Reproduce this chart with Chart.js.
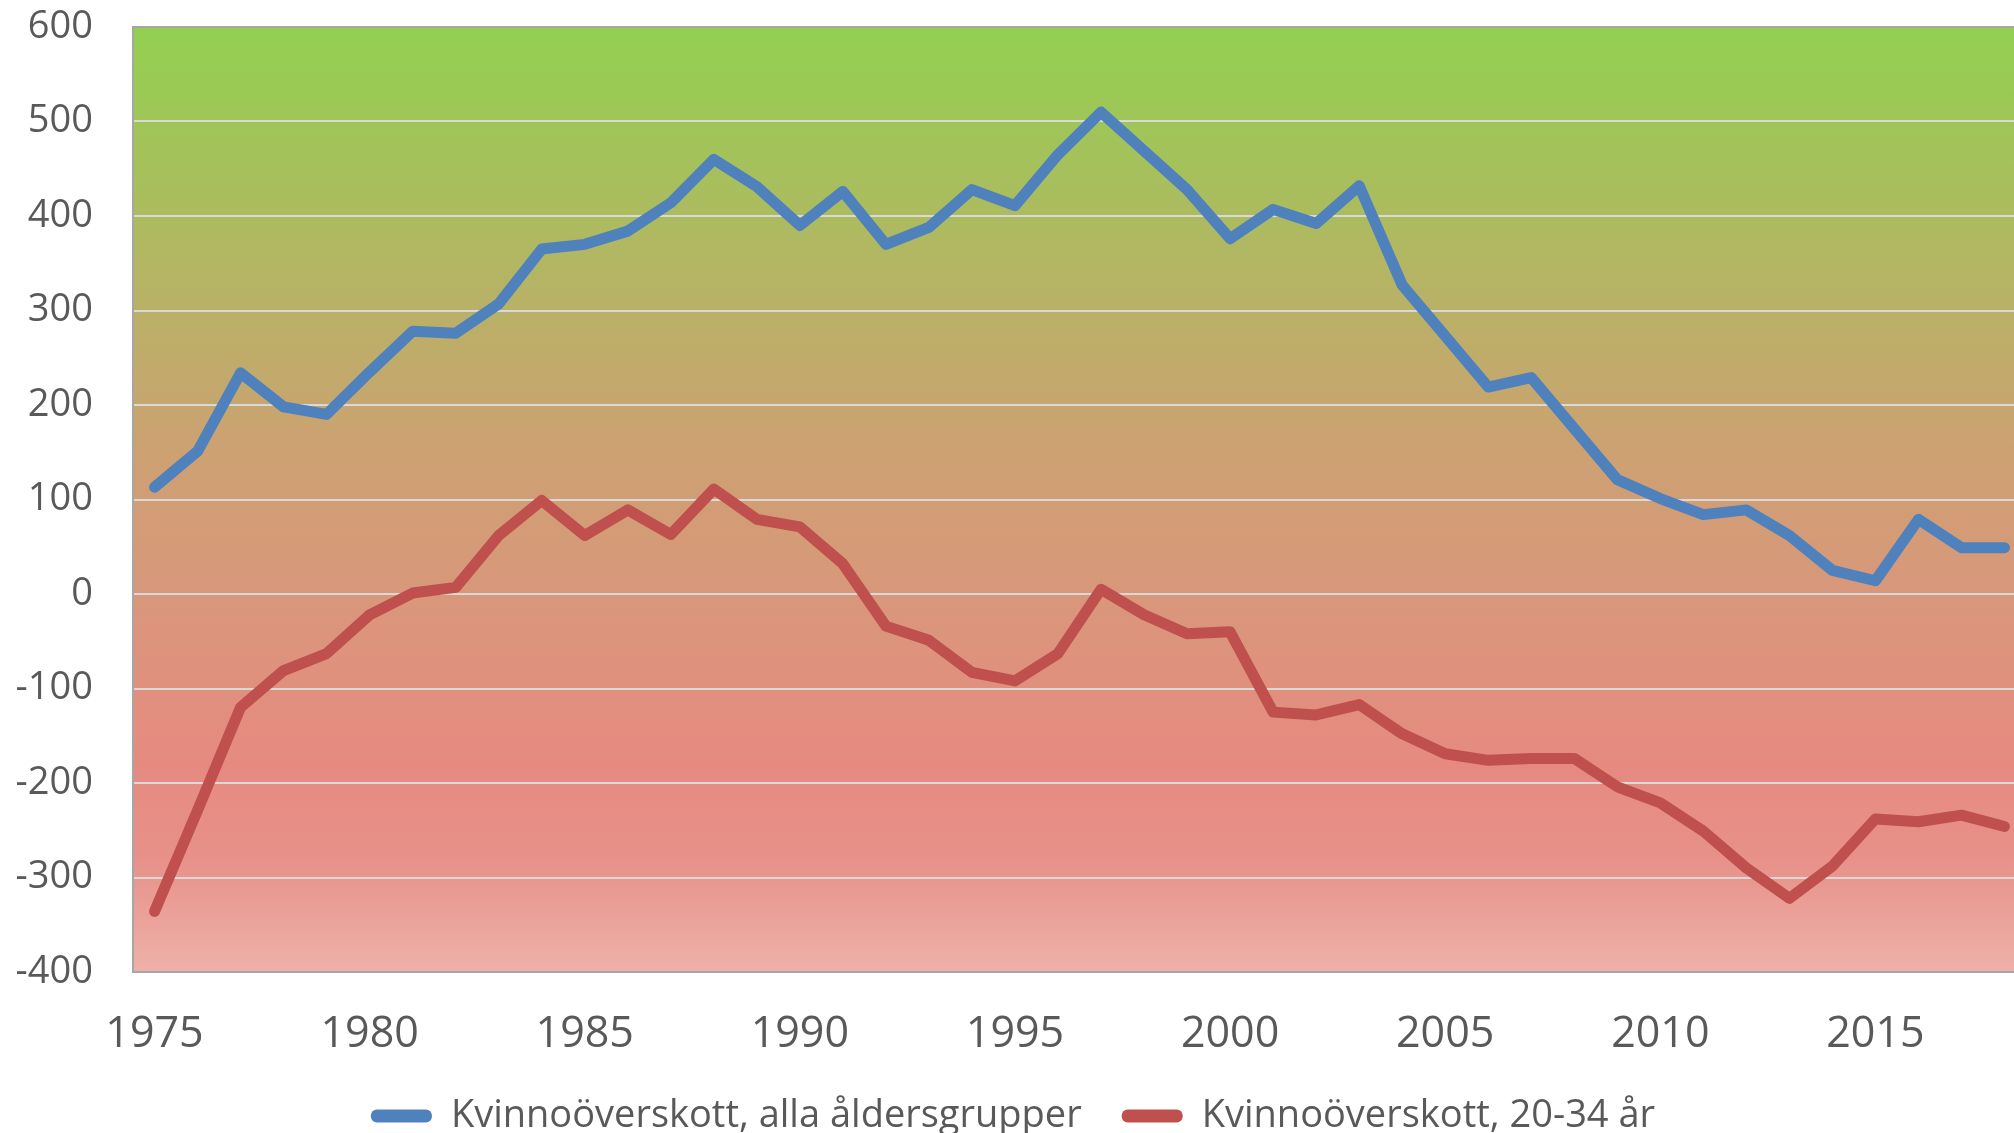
<!DOCTYPE html>
<html>
<head>
<meta charset="utf-8">
<script src="https://cdn.jsdelivr.net/npm/chart.js@4"></script>
<style>
  html, body { margin: 0; padding: 0; background: #fff; overflow: hidden; }
  #wrap { width: 2014px; height: 1133px; overflow: hidden; }
</style>
</head>
<body>
<div id="wrap"><canvas id="chart" width="2030" height="1133"></canvas></div>
<script>
const years = [1975, 1976, 1977, 1978, 1979, 1980, 1981, 1982, 1983, 1984,
    1985, 1986, 1987, 1988, 1989, 1990, 1991, 1992, 1993, 1994,
    1995, 1996, 1997, 1998, 1999, 2000, 2001, 2002, 2003, 2004,
    2005, 2006, 2007, 2008, 2009, 2010, 2011, 2012, 2013, 2014,
    2015, 2016, 2017, 2018];

// Kvinnoöverskott, alla åldersgrupper
const allaAldrar = [113, 151, 234, 198, 190, 235, 278, 276, 307, 365,
    370, 384, 414, 460, 431, 390, 426, 370, 388, 428,
    411, 465, 510, 469, 428, 376, 407, 392, 432, 327,
    273, 219, 229, 175, 121, 101, 84, 89, 62, 25,
    14, 79, 49, 49];

// Kvinnoöverskott, 20-34 år
const unga = [-336, -229, -120, -81, -63, -22, 1, 7, 62, 99,
    62, 89, 63, 111, 79, 71, 32, -34, -49, -83,
    -92, -63, 5, -22, -42, -40, -125, -128, -117, -148,
    -169, -176, -174, -174, -204, -221, -251, -290, -322, -288,
    -238, -241, -234, -246];

const yTicks = [-400, -300, -200, -100, 0, 100, 200, 300, 400, 500, 600];

const textColor = '#595959';
const fontName = "'Open Sans', 'Noto Sans', sans-serif";

// gradient behind the plot area
const bgPlugin = {
    id: 'plotBg',
    beforeDraw(chart) {
        const a = chart.chartArea;
        if (!a) return;
        const ctx = chart.ctx;
        const g = ctx.createLinearGradient(0, a.top, 0, a.bottom);
        g.addColorStop(0, '#92D050');
        g.addColorStop(0.45, '#CDA172');
        g.addColorStop(0.62, '#DA967C');
        g.addColorStop(0.78, '#E68A80');
        g.addColorStop(0.88, '#E79189');
        g.addColorStop(1, '#EEB1A9');
        ctx.save();
        ctx.fillStyle = g;
        ctx.fillRect(a.left, a.top, a.right - a.left, a.bottom - a.top);
        ctx.restore();
    }
};

const ctx = document.getElementById('chart').getContext('2d');
window.myChart = new Chart(ctx, {
    type: 'line',
    data: {
        labels: years,
        datasets: [{
            label: 'Kvinnoöverskott, alla åldersgrupper',
            data: allaAldrar,
            borderColor: '#4F81BD',
            backgroundColor: '#4F81BD',
            borderWidth: 11,
            borderCapStyle: 'round',
            borderJoinStyle: 'round',
            pointRadius: 0,
            tension: 0
        }, {
            label: 'Kvinnoöverskott, 20-34 år',
            data: unga,
            borderColor: '#C0504D',
            backgroundColor: '#C0504D',
            borderWidth: 11,
            borderCapStyle: 'round',
            borderJoinStyle: 'round',
            pointRadius: 0,
            tension: 0
        }]
    },
    options: {
        responsive: false,
        animation: false,
        layout: { padding: { top: 27, right: 4, left: 0, bottom: -12 } },
        plugins: {
            tooltip: { enabled: false },
            legend: {
                position: 'bottom',
                labels: {
                    color: textColor,
                    font: { family: fontName, size: 38 },
                    boxWidth: 61,
                    boxHeight: 13,
                    useBorderRadius: true,
                    borderRadius: 6,
                    padding: 40,
                    generateLabels(chart) {
                        return Chart.defaults.plugins.legend.labels.generateLabels(chart).map(l => {
                            l.lineWidth = 0;
                            l.fillStyle = l.strokeStyle;
                            return l;
                        });
                    }
                }
            }
        },
        scales: {
            x: {
                type: 'category',
                offset: true,
                grid: { display: false, drawTicks: false },
                border: { display: true, color: '#A6A6A6', width: 2 },
                ticks: {
                    autoSkip: false,
                    maxRotation: 0,
                    padding: 37,
                    color: textColor,
                    font: { family: fontName, size: 43 },
                    callback(value, index) {
                        const y = years[index];
                        return y % 5 === 0 ? String(y) : '';
                    }
                },
                afterFit(scale) {
                    scale.height = 85;
                    scale.paddingLeft = 0;
                    scale.paddingRight = 0;
                }
            },
            y: {
                min: yTicks[0],
                max: yTicks[yTicks.length - 1],
                afterBuildTicks(scale) {
                    scale.ticks = yTicks.map(v => ({ value: v }));
                },
                grid: {
                    drawTicks: false,
                    lineWidth: 2,
                    color(c) {
                        if (c.tick && (c.tick.value === 600 || c.tick.value === -400)) return '#A6A6A6';
                        return '#D9D9D9';
                    }
                },
                border: { display: true, color: '#A6A6A6', width: 2 },
                ticks: {
                    padding: 40,
                    color: textColor,
                    font: { family: fontName, size: 38 }
                },
                afterFit(scale) {
                    scale.width = 133;
                    scale.paddingTop = 0;
                    scale.paddingBottom = 0;
                }
            }
        }
    },
    plugins: [bgPlugin]
});
</script>
</body>
</html>
